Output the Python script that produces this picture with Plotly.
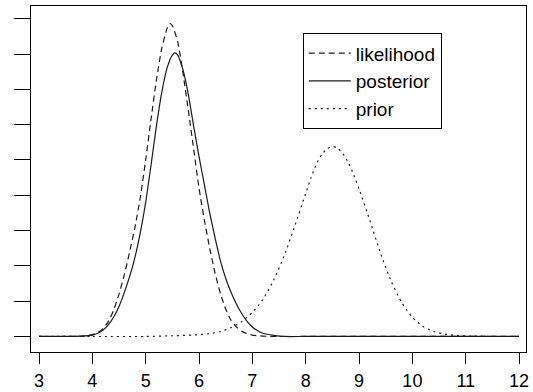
import plotly.graph_objects as go

# likelihood (dashed)
lik_x = [3.0, 3.5, 3.8, 4.0, 4.1, 4.2, 4.3, 4.4, 4.5, 4.6, 4.7, 4.8, 4.9, 5.0, 5.1, 5.2, 5.3, 5.4, 5.45, 5.5, 5.6,
         5.7, 5.8, 5.9, 6.0, 6.1, 6.2, 6.3, 6.4, 6.5, 6.6, 6.7, 6.8, 6.9, 7.0, 7.2, 7.5, 8.0, 12.0]
lik_y = [0.0, 0.0, 0.01, 0.05, 0.11, 0.22, 0.42, 0.75, 1.2, 1.75, 2.4, 3.1, 3.95, 5.0, 6.15, 7.25, 8.15, 8.72, 8.87, 8.8, 8.35,
         7.45, 6.4, 5.3, 4.2, 3.3, 2.5, 1.8, 1.22, 0.78, 0.46, 0.27, 0.15, 0.08, 0.04, 0.01, 0.0, 0.0, 0.0]

# posterior (solid)
post_x = [3.0, 3.5, 3.8, 4.0, 4.1, 4.2, 4.3, 4.4, 4.5, 4.6, 4.7, 4.8, 4.9, 5.0, 5.1, 5.2, 5.3, 5.4, 5.5, 5.55, 5.6,
          5.7, 5.8, 5.9, 6.0, 6.1, 6.2, 6.3, 6.4, 6.5, 6.6, 6.7, 6.8, 6.9, 7.0, 7.1, 7.2, 7.4, 7.6, 8.0, 12.0]
post_y = [0.0, 0.0, 0.01, 0.04, 0.09, 0.18, 0.33, 0.55, 0.85, 1.25, 1.7, 2.25, 2.95, 3.8, 4.85, 5.95, 6.9, 7.6, 7.97, 8.03, 7.97,
          7.55, 6.85, 5.95, 5.1, 4.3, 3.5, 2.8, 2.15, 1.65, 1.25, 0.92, 0.65, 0.43, 0.27, 0.16, 0.09, 0.03, 0.0, 0.0, 0.0]

# prior (dotted)
prior_x = [3.0, 4.0, 5.0, 5.5, 6.0, 6.2, 6.4, 6.6, 6.8, 7.0, 7.2, 7.4, 7.6, 7.8, 8.0, 8.1, 8.2, 8.3, 8.4, 8.5,
           8.6, 8.7, 8.8, 8.9, 9.0, 9.2, 9.4, 9.6, 9.8, 10.0, 10.2, 10.4, 10.6, 10.8, 11.0, 11.5, 12.0]
prior_y = [0.0, 0.0, 0.0, 0.02, 0.05, 0.08, 0.14, 0.25, 0.42, 0.68, 1.05, 1.6, 2.3, 3.15, 4.05, 4.5, 4.88, 5.15, 5.32, 5.38,
           5.33, 5.17, 4.92, 4.58, 4.18, 3.3, 2.37, 1.57, 0.96, 0.54, 0.28, 0.14, 0.07, 0.035, 0.015, 0.0, 0.0]

x_ticks = [3, 4, 5, 6, 7, 8, 9, 10, 11, 12]
y_ticks = [0, 1, 2, 3, 4, 5, 6, 7, 8, 9]

FONT = "Liberation Sans, Arial, sans-serif"
INK = "#1a1a1a"

fig = go.Figure()
fig.add_trace(go.Scatter(x=lik_x, y=lik_y, mode="lines", name="likelihood",
                         line=dict(color=INK, width=1.2, dash="6px,4px", shape="spline", smoothing=0.6)))
fig.add_trace(go.Scatter(x=post_x, y=post_y, mode="lines", name="posterior",
                         line=dict(color=INK, width=1.2, shape="spline", smoothing=0.6)))
fig.add_trace(go.Scatter(x=prior_x, y=prior_y, mode="lines", name="prior",
                         line=dict(color=INK, width=1.2, dash="2px,4px", shape="spline", smoothing=0.6)))

fig.update_layout(
    width=533, height=392,
    margin=dict(l=31, r=7, t=6, b=40, autoexpand=False),
    paper_bgcolor="white", plot_bgcolor="white",
    font=dict(family=FONT, color="black", size=18),
    showlegend=True,
    legend=dict(x=0.549, y=0.921, xanchor="left", yanchor="top",
                bordercolor="black", borderwidth=1, bgcolor="white",
                font=dict(family=FONT, size=19, color="black"),
                tracegroupgap=0, itemwidth=42, entrywidth=143),
    xaxis=dict(range=[2.85, 12.13], tickvals=x_ticks, ticktext=[str(v) for v in x_ticks],
               automargin=False,
               showgrid=False, zeroline=False, showline=True, mirror=True, linecolor="black", linewidth=1,
               ticks="outside", ticklen=11, tickcolor="black", tickwidth=1, ticklabelstandoff=1,
               tickfont=dict(family=FONT, size=18, color="black")),
    yaxis=dict(range=[-0.44, 9.36], tickvals=y_ticks, showticklabels=False, automargin=False,
               showgrid=False, zeroline=False, showline=True, mirror=True, linecolor="black", linewidth=1,
               ticks="outside", ticklen=16, tickcolor="black", tickwidth=1),
)

fig.write_html("out.html", config={"displayModeBar": False},
               post_script="document.body.style.margin='0px';document.body.style.padding='0px';")
